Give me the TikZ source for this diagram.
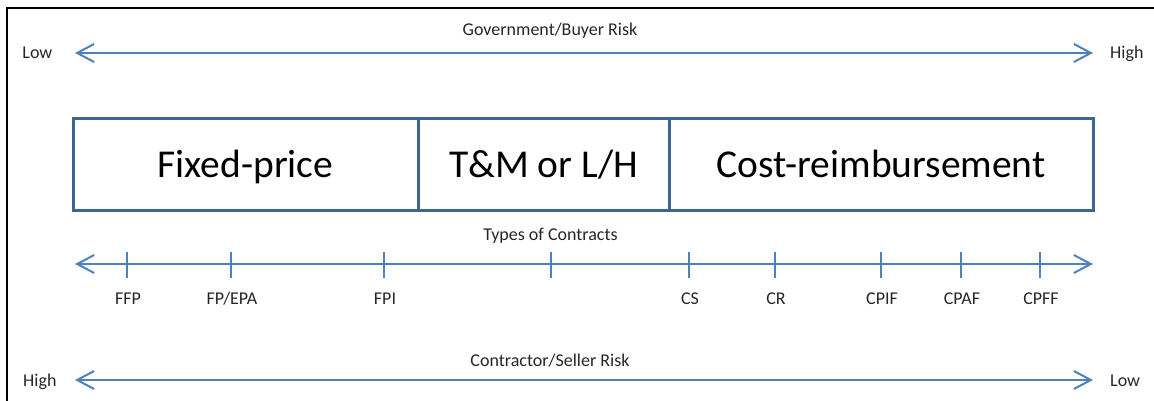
\documentclass[tikz,border=0pt]{standalone}
\usepackage{fontspec}
\setmainfont{Carlito}
\usetikzlibrary{arrows.meta}
\definecolor{arrowblue}{HTML}{4F81BD}
\definecolor{boxblue}{HTML}{3E6494}
\definecolor{txtgray}{HTML}{262626}
\begin{document}
\begin{tikzpicture}[x=1pt,y=-1pt,
  riskarrow/.style={draw=arrowblue, line width=2pt,
    {Straight Barb[length=17pt,width=18pt,line width=2pt]}-{Straight Barb[length=17pt,width=18pt,line width=2pt]}},
  tickline/.style={draw=arrowblue, line width=2pt},
  smalltxt/.style={inner sep=0pt, anchor=base, text=txtgray, font=\fontsize{18pt}{20pt}\selectfont},
  segbox/.style={draw=boxblue, line width=3pt, inner sep=0pt, minimum height=91.5pt,
    text height=26pt, text depth=0pt, font=\fontsize{39.5pt}{44pt}\selectfont}
]
\useasboundingbox (0,0) rectangle (1154,401);
% outer frame
\draw[line width=2pt] (6.5,401) -- (6.5,8.5) -- (1154,8.5);

% government / buyer risk
\coordinate (gl) at (75,53);
\coordinate (gr) at (1093,53);
\draw[riskarrow] (gl) -- (gr);
\node[smalltxt] (govt) at (550,36) {Government/Buyer Risk};
\node[smalltxt, anchor=base east] (glow) at (52.5,58.5) {Low};
\node[smalltxt, anchor=base west] (ghigh) at (1110,59) {High};

% contract category boxes
\node[segbox, minimum width=345pt] (fp) at (245.5,164.25) {Fixed-price};
\node[segbox, minimum width=251pt] (tm) at (543.5,164.25) {T\&M or L/H};
\node[segbox, minimum width=424pt] (cr) at (881,164.25) {Cost-reimbursement};

% types of contracts
\node[smalltxt] (types) at (550.5,240) {Types of Contracts};
\coordinate (tl) at (75,264);
\coordinate (tr) at (1093,264);
\draw[riskarrow] (tl) -- (tr);
\foreach \x/\name/\lab in {127/ffp/{FFP}, 231/fpepa/{FP/EPA}, 384/fpi/{FPI}, 551/blank/{}, 689/cs/{CS}, 775/crr/{CR}, 881/cpif/{CPIF}, 961/cpaf/{CPAF}, 1040/cpff/{CPFF}}{
  \coordinate (\name top) at (\x,252);
  \coordinate (\name bot) at (\x,277.5);
  \draw[tickline] (\name top) -- (\name bot);
  \node[smalltxt] (\name) at (\x+1,304) {\lab};
}

% contractor / seller risk
\node[smalltxt] (contr) at (550,366) {Contractor/Seller Risk};
\coordinate (cl) at (75,380);
\coordinate (cr2) at (1093,380);
\draw[riskarrow] (cl) -- (cr2);
\node[smalltxt, anchor=base west] (chigh) at (23,386) {High};
\node[smalltxt, anchor=base west] (clow) at (1110,386) {Low};
\end{tikzpicture}
\end{document}
